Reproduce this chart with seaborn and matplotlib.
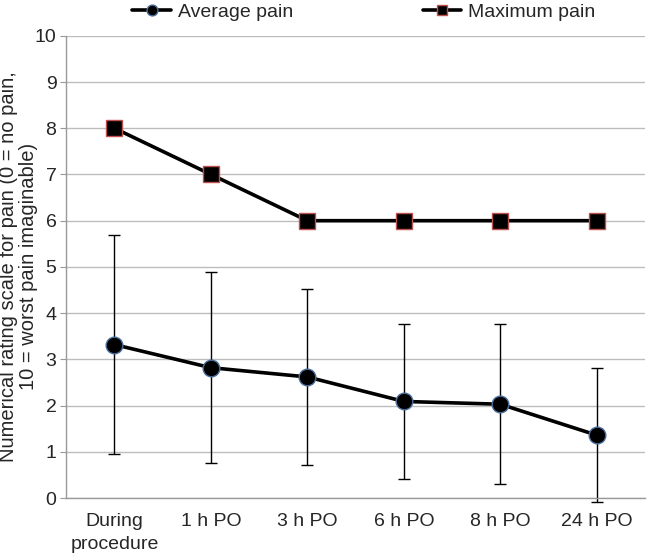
import numpy as np
import pandas as pd
import matplotlib
matplotlib.use('Agg')
import matplotlib.pyplot as plt
import seaborn as sns

# data
times = ['During\nprocedure', '1 h PO', '3 h PO', '6 h PO', '8 h PO', '24 h PO']
avg_pain = [3.32, 2.82, 2.62, 2.09, 2.03, 1.36]
avg_sd = [2.37, 2.07, 1.91, 1.67, 1.73, 1.45]
max_pain = [8, 7, 6, 6, 6, 6]

sns.set_style('white')
plt.rcParams['font.family'] = ['Liberation Sans', 'DejaVu Sans']

df = pd.DataFrame({'x': np.arange(len(times)), 'avg': avg_pain, 'max': max_pain})

fig = plt.figure(figsize=(6.49, 5.59), dpi=100)
ax = fig.add_axes([0.102, 0.109, 0.892, 0.827])

# error bars
ax.errorbar(df['x'], df['avg'], yerr=avg_sd, fmt='none', ecolor='black',
            elinewidth=1, capsize=4, capthick=1, zorder=2, clip_on=False)

sns.lineplot(data=df, x='x', y='avg', ax=ax, color='black', lw=2.6,
             marker='o', markersize=12, markerfacecolor='black',
             markeredgecolor='#4a6f9c', markeredgewidth=1, label='Average pain', zorder=3)
sns.lineplot(data=df, x='x', y='max', ax=ax, color='black', lw=2.6,
             marker='s', markersize=11, markerfacecolor='black',
             markeredgecolor='#c0504d', markeredgewidth=1, label='Maximum pain', zorder=3)

ax.set_xlim(-0.5, len(times) - 0.5)
ax.set_ylim(0, 10)
ax.set_yticks(range(0, 11))
ax.set_xticks(df['x'])
ax.set_xticklabels(times, fontsize=14, linespacing=1.45)
ax.set_xticks(np.arange(-0.5, len(times), 1), minor=True)
ax.tick_params(axis='x', which='major', length=0, pad=11)
ax.tick_params(axis='x', which='minor', length=5, color='#999999', width=1)
ax.tick_params(axis='y', which='major', length=4, color='#999999', labelsize=14, pad=3, left=True)
ax.yaxis.grid(True, color='#bdbdbd', lw=1)
ax.set_axisbelow(True)
for s in ['top', 'right']:
    ax.spines[s].set_visible(False)
for s in ['left', 'bottom']:
    ax.spines[s].set_color('#999999')
    ax.spines[s].set_linewidth(1)

ax.set_xlabel('')
ax.set_ylabel('Numerical rating scale for pain (0 = no pain,\n10 = worst pain imaginable)',
              fontsize=14.5, linespacing=1.05)
ax.yaxis.set_label_coords(-28 / 579, 0.5)

handles, labels = ax.get_legend_handles_labels()
ax.get_legend().remove()
fig.legend(handles, labels, loc='center', bbox_to_anchor=(364 / 649, 1 - 12 / 559), ncol=2,
           frameon=False, fontsize=14, columnspacing=6.7, handlelength=1.96,
           handletextpad=0.36, markerscale=0.65, borderaxespad=0, borderpad=0)

fig.savefig('out.png', dpi=100)
